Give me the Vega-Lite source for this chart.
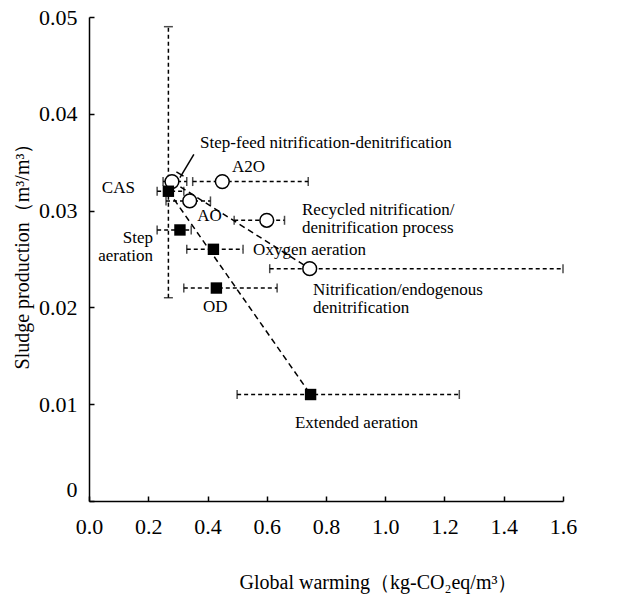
{
  "$schema": "https://vega.github.io/schema/vega-lite/v6.json",
  "width": 474,
  "height": 484,
  "autosize": "none",
  "padding": {"left": 89, "top": 17, "right": 63, "bottom": 95},
  "background": "white",
  "config": {
    "view": {"stroke": null},
    "font": "Liberation Serif",
    "axis": {
      "grid": false,
      "domainColor": "black",
      "domainWidth": 1.5,
      "tickColor": "black",
      "tickWidth": 1.5,
      "tickSize": -5,
      "labelFlush": false,
      "labelFont": "Liberation Serif",
      "labelFontSize": 22,
      "labelColor": "black",
      "titleFont": "Liberation Serif",
      "titleFontSize": 20,
      "titleFontWeight": "normal",
      "titleColor": "black"
    }
  },
  "datasets": {
    "pts": [
      {"name": "Step-feed nitrification-denitrification", "type": "circle", "x": 0.28, "y": 0.033, "xlo": 0.25, "xhi": 0.33},
      {"name": "A2O", "type": "circle", "x": 0.45, "y": 0.033, "xlo": 0.35, "xhi": 0.74},
      {"name": "AO", "type": "circle", "x": 0.34, "y": 0.031, "xlo": 0.26, "xhi": 0.41},
      {"name": "Recycled nitrification/denitrification process", "type": "circle", "x": 0.6, "y": 0.029, "xlo": 0.49, "xhi": 0.66},
      {"name": "Nitrification/endogenous denitrification", "type": "circle", "x": 0.745, "y": 0.024, "xlo": 0.61, "xhi": 1.6},
      {"name": "CAS", "type": "square", "x": 0.268, "y": 0.032, "xlo": 0.23, "xhi": 0.32},
      {"name": "Step aeration", "type": "square", "x": 0.307, "y": 0.028, "xlo": 0.23, "xhi": 0.345},
      {"name": "Oxygen aeration", "type": "square", "x": 0.42, "y": 0.026, "xlo": 0.33, "xhi": 0.52},
      {"name": "OD", "type": "square", "x": 0.43, "y": 0.022, "xlo": 0.32, "xhi": 0.635},
      {"name": "Extended aeration", "type": "square", "x": 0.748, "y": 0.011, "xlo": 0.5, "xhi": 1.25}
    ],
    "vbar": [
      {"name": "CAS", "x": 0.268, "ylo": 0.021, "yhi": 0.049}
    ],
    "trend": [
      {"g": "circle", "x": 0.28, "y": 0.033},
      {"g": "circle", "x": 0.745, "y": 0.024},
      {"g": "square", "x": 0.268, "y": 0.032},
      {"g": "square", "x": 0.748, "y": 0.011}
    ],
    "labelsLeft": [
      {"text": "Step-feed nitrification-denitrification", "x": 0.375, "y": 0.037},
      {"text": "A2O", "x": 0.483, "y": 0.0345},
      {"text": "AO", "x": 0.365, "y": 0.0294},
      {"text": "Recycled nitrification/", "x": 0.719, "y": 0.0301},
      {"text": "denitrification process", "x": 0.719, "y": 0.0282},
      {"text": "Oxygen aeration", "x": 0.554, "y": 0.0259},
      {"text": "Nitrification/endogenous", "x": 0.756, "y": 0.0218},
      {"text": "denitrification", "x": 0.756, "y": 0.0199},
      {"text": "OD", "x": 0.385, "y": 0.02},
      {"text": "Extended aeration", "x": 0.695, "y": 0.0081}
    ],
    "labelsRight": [
      {"text": "CAS", "x": 0.155, "y": 0.0323},
      {"text": "Step", "x": 0.216, "y": 0.0272},
      {"text": "aeration", "x": 0.216, "y": 0.0253}
    ],
    "leader": [
      {"x": 0.354, "y": 0.0358, "x2": 0.307, "y2": 0.0334},
      {"x": 0.295, "y": 0.034, "x2": 0.319, "y2": 0.03357}
    ]
  },
  "layer": [
    {
      "data": {"name": "trend"},
      "mark": {"type": "line", "color": "black", "strokeWidth": 1.5, "strokeDash": [6, 4]},
      "encoding": {
        "x": {"field": "x", "type": "quantitative", "scale": {"domain": [0, 1.6], "nice": false},
          "axis": {"values": [0, 0.2, 0.4, 0.6, 0.8, 1.0, 1.2, 1.4, 1.6], "format": ".1f", "labelPadding": 20,
            "title": "Global warming（kg-CO₂eq/m³）", "titleX": 289, "titleY": 81, "titleBaseline": "middle", "titleAnchor": "middle"}},
        "y": {"field": "y", "type": "quantitative", "scale": {"domain": [0, 0.05], "nice": false},
          "axis": {"values": [0, 0.01, 0.02, 0.03, 0.04, 0.05], "labelExpr": "datum.value == 0 ? '0' : format(datum.value, '.2f')", "labelPadding": 17,
            "labelBaseline": {"condition": {"test": "datum.value == 0", "value": "bottom"}, "value": "middle"},
            "title": "Sludge production（m³/m³）", "titleX": -67, "titleY": 234, "titleBaseline": "middle", "titleAngle": -90, "titleAnchor": "middle"}},
        "detail": {"field": "g"}
      }
    },
    {
      "data": {"name": "pts"},
      "mark": {"type": "rule", "color": "black", "strokeWidth": 1.5, "strokeDash": [4, 3]},
      "encoding": {
        "x": {"field": "xlo", "type": "quantitative"},
        "x2": {"field": "xhi"},
        "y": {"field": "y", "type": "quantitative"}
      }
    },
    {
      "data": {"name": "pts"},
      "transform": [{"fold": ["xlo", "xhi"], "as": ["end", "xe"]}],
      "mark": {"type": "tick", "color": "black", "orient": "vertical", "size": 9, "thickness": 1.5},
      "encoding": {
        "x": {"field": "xe", "type": "quantitative"},
        "y": {"field": "y", "type": "quantitative"}
      }
    },
    {
      "data": {"name": "vbar"},
      "mark": {"type": "rule", "color": "black", "strokeWidth": 1.5, "strokeDash": [4, 3]},
      "encoding": {
        "x": {"field": "x", "type": "quantitative"},
        "y": {"field": "ylo", "type": "quantitative"},
        "y2": {"field": "yhi"}
      }
    },
    {
      "data": {"name": "vbar"},
      "transform": [{"fold": ["ylo", "yhi"], "as": ["end", "ye"]}],
      "mark": {"type": "tick", "color": "black", "orient": "horizontal", "size": 9, "thickness": 1.5},
      "encoding": {
        "x": {"field": "x", "type": "quantitative"},
        "y": {"field": "ye", "type": "quantitative"}
      }
    },
    {
      "data": {"name": "pts"},
      "transform": [{"filter": "datum.type == 'circle'"}],
      "mark": {"type": "point", "shape": "circle", "size": 190, "filled": false, "fill": "white", "fillOpacity": 1, "stroke": "black", "strokeWidth": 1.5, "opacity": 1},
      "encoding": {
        "x": {"field": "x", "type": "quantitative"},
        "y": {"field": "y", "type": "quantitative"}
      }
    },
    {
      "data": {"name": "pts"},
      "transform": [{"filter": "datum.type == 'square'"}],
      "mark": {"type": "square", "size": 130, "color": "black", "opacity": 1},
      "encoding": {
        "x": {"field": "x", "type": "quantitative"},
        "y": {"field": "y", "type": "quantitative"}
      }
    },
    {
      "data": {"name": "leader"},
      "mark": {"type": "rule", "color": "black", "strokeWidth": 1.5},
      "encoding": {
        "x": {"field": "x", "type": "quantitative"},
        "y": {"field": "y", "type": "quantitative"},
        "x2": {"field": "x2"},
        "y2": {"field": "y2"}
      }
    },
    {
      "data": {"name": "labelsLeft"},
      "mark": {"type": "text", "font": "Liberation Serif", "fontSize": 17, "color": "black", "align": "left", "baseline": "middle"},
      "encoding": {
        "x": {"field": "x", "type": "quantitative"},
        "y": {"field": "y", "type": "quantitative"},
        "text": {"field": "text"}
      }
    },
    {
      "data": {"name": "labelsRight"},
      "mark": {"type": "text", "font": "Liberation Serif", "fontSize": 17, "color": "black", "align": "right", "baseline": "middle"},
      "encoding": {
        "x": {"field": "x", "type": "quantitative"},
        "y": {"field": "y", "type": "quantitative"},
        "text": {"field": "text"}
      }
    }
  ]
}
